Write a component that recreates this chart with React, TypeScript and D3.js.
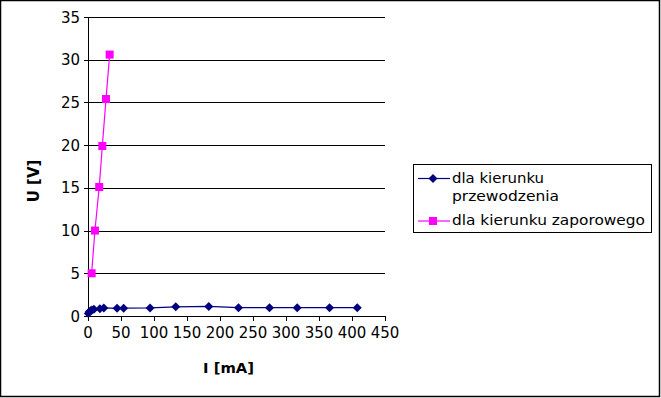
import React from "react";
import * as d3 from "d3";

const fwdI = [0.5, 2, 4, 6, 9, 18, 24, 44, 54, 94, 133, 183, 228, 275, 317, 366, 408];
const fwdU = [0.3, 0.5, 0.62, 0.7, 0.78, 0.85, 0.95, 0.9, 0.92, 0.95, 1.07, 1.12, 0.97, 0.97, 0.97, 0.97, 0.97];
const revI = [5.5, 10.5, 17, 21.7, 27.3, 32.8];
const revU = [5.0, 10.0, 15.1, 19.9, 25.4, 30.6];
const xTicks = [0, 50, 100, 150, 200, 250, 300, 350, 400, 450];
const yTicks = [0, 5, 10, 15, 20, 25, 30, 35];
const seriesNames = ["dla kierunku przewodzenia", "dla kierunku zaporowego"];

const W = 661, H = 398;
const FONT = "DejaVu Sans, Verdana, sans-serif";

export default function App() {
  const x = d3.scaleLinear().domain([0, 450]).range([88, 385]);
  const y = d3.scaleLinear().domain([0, 35]).range([316, 17]);
  const line = d3.line<[number, number]>().x(d => x(d[0])).y(d => y(d[1]));
  const fwd: [number, number][] = fwdI.map((v, i) => [v, fwdU[i]]);
  const rev: [number, number][] = revI.map((v, i) => [v, revU[i]]);
  const diamond = (cx: number, cy: number, r = 4.5) =>
    `M${cx},${cy - r}L${cx + r},${cy}L${cx},${cy + r}L${cx - r},${cy}Z`;
  const blue = "#000080", pink = "#ff00ff";

  return (
    <svg width={W} height={H} style={{ position: "absolute", left: 0, top: 0, display: "block" }}>
      <rect x={0} y={0} width={W} height={H} fill="#fff" />
      <rect x={0.5} y={0.5} width={659} height={396} fill="none" stroke="#000" strokeWidth={1.5} />
      {yTicks.filter(t => t > 0).map(t => (
        <line key={"g" + t} x1={x(0)} x2={x(450)} y1={Math.round(y(t)) + 0.5} y2={Math.round(y(t)) + 0.5} stroke="#000" strokeWidth={1} />
      ))}
      <line x1={88.5} x2={88.5} y1={y(35)} y2={y(0)} stroke="#000" />
      <line x1={x(0)} x2={x(450)} y1={316.5} y2={316.5} stroke="#000" />
      {yTicks.map(t => (
        <g key={"y" + t}>
          <line x1={84} x2={88} y1={Math.round(y(t)) + 0.5} y2={Math.round(y(t)) + 0.5} stroke="#000" />
          <text x={80} y={y(t) + 5.5} textAnchor="end" fontFamily={FONT} fontSize={15} fill="#000">{t}</text>
        </g>
      ))}
      {xTicks.map(t => (
        <g key={"x" + t}>
          <line x1={Math.round(x(t)) + 0.5} x2={Math.round(x(t)) + 0.5} y1={316} y2={321} stroke="#000" />
          <text x={x(t)} y={338} textAnchor="middle" fontFamily={FONT} fontSize={15} fill="#000">{t}</text>
        </g>
      ))}
      <text x={203} y={373} fontFamily={FONT} fontSize={14} fontWeight="bold" textLength={51} lengthAdjust="spacingAndGlyphs">I [mA]</text>
      <text transform="translate(39,181) rotate(-90)" textAnchor="middle" fontFamily={FONT} fontSize={15} fontWeight="bold">U [V]</text>

      <path d={line(fwd) || ""} fill="none" stroke={blue} strokeWidth={1.2} />
      {fwd.map((d, i) => <path key={"f" + i} d={diamond(x(d[0]), y(d[1]))} fill={blue} />)}
      <path d={line(rev) || ""} fill="none" stroke={pink} strokeWidth={1.2} />
      {rev.map((d, i) => <rect key={"r" + i} x={x(d[0]) - 4} y={y(d[1]) - 4} width={8} height={8} fill={pink} />)}

      <rect x={413.5} y={164.5} width={238} height={68} fill="#fff" stroke="#000" strokeWidth={1} />
      <line x1={418} x2={450} y1={178.5} y2={178.5} stroke={blue} strokeWidth={1.2} />
      <path d={diamond(433, 178.5)} fill={blue} />
      <text x={452} y={183} fontFamily={FONT} fontSize={13.5} textLength={92} lengthAdjust="spacingAndGlyphs">dla kierunku</text>
      <text x={452} y={201} fontFamily={FONT} fontSize={13.5} textLength={107} lengthAdjust="spacingAndGlyphs">przewodzenia</text>
      <line x1={418} x2={450} y1={221} y2={221} stroke={pink} strokeWidth={1.2} />
      <rect x={429} y={217} width={8} height={8} fill={pink} />
      <text x={452} y={225} fontFamily={FONT} fontSize={13.5} textLength={193} lengthAdjust="spacingAndGlyphs">{seriesNames[1]}</text>
    </svg>
  );
}
